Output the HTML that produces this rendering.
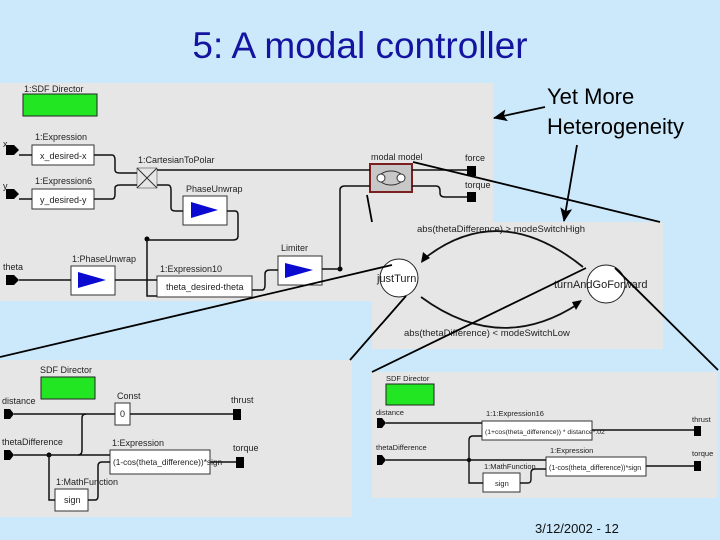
<!DOCTYPE html>
<html><head><meta charset="utf-8"><style>
html,body{margin:0;padding:0;background:#cce9fb;}
svg{display:block;font-family:"Liberation Sans",sans-serif;}
</style></head><body>
<svg width="720" height="540" viewBox="0 0 720 540" xmlns="http://www.w3.org/2000/svg">
<defs>
<marker id="big" markerWidth="14" markerHeight="12" refX="13" refY="6" orient="auto" markerUnits="userSpaceOnUse"><path d="M0,0 L14,6 L0,12 L3,6 z" fill="#000"/></marker>
</defs>
<rect width="720" height="540" fill="#cce9fb"/>
<text x="360" y="58" font-size="37" fill="#1414a0" text-anchor="middle">5: A modal controller</text>

<!-- Panel A -->
<rect x="0" y="83" width="493" height="218" fill="#e6e6e6"/>
<g font-size="9" fill="#222">
<text x="24" y="92">1:SDF Director</text>
<rect x="23" y="94" width="74" height="22" fill="#22e622" stroke="#222"/>
<text x="3" y="147">x</text><text x="3" y="189">y</text><text x="3" y="270">theta</text>
<text x="35" y="140">1:Expression</text>
<rect x="32" y="145" width="62" height="20" fill="#fff" stroke="#333"/><text x="40" y="159">x_desired-x</text>
<text x="35" y="184">1:Expression6</text>
<rect x="32" y="189" width="62" height="20" fill="#fff" stroke="#333"/><text x="40" y="203">y_desired-y</text>
<text x="138" y="163">1:CartesianToPolar</text>
<path d="M137,168 L157,188 M157,168 L137,188" stroke="#333" fill="none"/>
<rect x="137" y="168" width="20" height="20" fill="none" stroke="#333" stroke-width="0.5"/>
<text x="186" y="192">PhaseUnwrap</text>
<rect x="183" y="196" width="44" height="29" fill="#fff" stroke="#333"/><path d="M191,202 L218,210 L191,218 z" fill="#0a0ad0"/>
<text x="72" y="262">1:PhaseUnwrap</text>
<rect x="71" y="266" width="44" height="29" fill="#fff" stroke="#333"/><path d="M78,272 L106,280 L78,288 z" fill="#0a0ad0"/>
<text x="160" y="272">1:Expression10</text>
<rect x="157" y="276" width="95" height="21" fill="#fff" stroke="#333"/><text x="166" y="290">theta_desired-theta</text>
<text x="281" y="251">Limiter</text>
<rect x="278" y="256" width="44" height="29" fill="#fff" stroke="#333"/><path d="M285,263 L313,270 L285,278 z" fill="#0a0ad0"/>
<text x="371" y="160">modal model</text>
<rect x="370" y="164" width="42" height="28" fill="#c8c8c8" stroke="#7a2020" stroke-width="2"/>
<ellipse cx="391" cy="178" rx="12" ry="7" fill="none" stroke="#333"/>
<circle cx="381" cy="178" r="4" fill="#fff" stroke="#333"/><circle cx="401" cy="178" r="4" fill="#fff" stroke="#333"/>
<text x="465" y="161">force</text><text x="465" y="188">torque</text>
</g>
<g fill="#000">
<path d="M6,145 L14,145 L19,150 L14,155 L6,155z"/>
<path d="M6,189 L14,189 L19,194 L14,199 L6,199z"/>
<path d="M6,275 L14,275 L19,280 L14,285 L6,285z"/>
<rect x="467" y="166" width="9" height="10"/><rect x="467" y="192" width="9" height="10"/>
<circle cx="147" cy="239" r="2.5"/><circle cx="340" cy="269" r="2.5"/>
</g>
<g stroke="#111" stroke-width="1.5" fill="none">
<path d="M19,155 L32,155 M94,155 L112,155 Q115,155 115,160 L115,170 Q115,173 120,173 L137,173"/>
<path d="M19,199 L32,199 M94,199 L112,199 Q115,199 115,194 L115,188 Q115,185 120,185 L137,185"/>
<path d="M157,170 L370,170"/>
<path d="M157,185 L168,185 Q171,185 171,190 L171,208 Q171,211 176,211 L183,211"/>
<path d="M227,211 L235,211 Q238,211 238,215 L238,236 Q238,240 233,240 L147,240 L147,296 L157,296"/>
<path d="M19,280 L71,280 M115,280 L157,280"/>
<path d="M252,290 L262,290 Q265,290 265,285 L265,274 Q265,270 270,270 L278,270"/>
<path d="M322,269 L340,269 L340,190 Q340,186 345,186 L370,186"/>
<path d="M412,170 L467,170"/>
<path d="M412,186 L436,186 Q440,186 440,191 L440,193 Q440,197 445,197 L467,197"/>
</g>

<!-- Panel B FSM -->
<rect x="372" y="222" width="291" height="127" fill="#e6e6e6"/>
<g font-size="9.5" fill="#222">
<text x="417" y="232">abs(thetaDifference) &gt; modeSwitchHigh</text>
<text x="404" y="336">abs(thetaDifference) &lt; modeSwitchLow</text>
</g>
<circle cx="399" cy="278" r="19" fill="#fff" stroke="#222"/>
<circle cx="606" cy="284" r="19" fill="#fff" stroke="#222"/>
<text x="377" y="282" font-size="11" fill="#222">justTurn</text>
<text x="554" y="288" font-size="11" fill="#222">turnAndGoForward</text>
<path d="M583,267 Q500,200 425,258" stroke="#111" stroke-width="1.8" fill="none"/>
<path d="M421,263 L423,252 L430,258 z" fill="#000"/>
<path d="M421,297 Q500,355 578,304" stroke="#111" stroke-width="1.8" fill="none"/>
<path d="M582,300 L576,310 L572,302 z" fill="#000"/>

<!-- Panel C -->
<rect x="0" y="360" width="352" height="157" fill="#e6e6e6"/>
<g font-size="9" fill="#222">
<text x="40" y="373">SDF Director</text>
<rect x="41" y="377" width="54" height="22" fill="#22e622" stroke="#222"/>
<text x="2" y="404">distance</text><text x="2" y="445">thetaDifference</text>
<text x="117" y="399">Const</text>
<rect x="115" y="403" width="15" height="22" fill="#fff" stroke="#333"/><text x="120" y="417">0</text>
<text x="231" y="403">thrust</text><text x="233" y="451">torque</text>
<text x="112" y="446">1:Expression</text>
<rect x="110" y="450" width="100" height="24" fill="#fff" stroke="#333"/><text x="113" y="465" font-size="8.3">(1-cos(theta_difference))*sign</text>
<text x="56" y="485">1:MathFunction</text>
<rect x="55" y="489" width="33" height="22" fill="#fff" stroke="#333"/><text x="64" y="503">sign</text>
</g>
<g fill="#000">
<path d="M4,409 L10,409 L14,414 L10,419 L4,419z"/><path d="M4,450 L10,450 L14,455 L10,460 L4,460z"/>
<rect x="233" y="409" width="8" height="11"/><rect x="236" y="457" width="8" height="11"/>
<circle cx="49" cy="455" r="2.5"/>
</g>
<g stroke="#111" stroke-width="1.5" fill="none">
<path d="M14,414 L115,414 M130,414 L233,414"/>
<path d="M14,455 L110,455"/>
<path d="M78,455 Q82,455 82,450 L82,418 Q82,414 86,414"/>
<path d="M49,455 L49,500 L55,500 M88,500 L95,500 Q98,500 98,496 L98,466 Q98,462 102,462 L110,462"/>
<path d="M210,462 L236,462"/>
</g>

<!-- Panel D -->
<rect x="372" y="372" width="345" height="126" fill="#e6e6e6"/>
<g font-size="7.5" fill="#222">
<text x="386" y="381">SDF Director</text>
<rect x="386" y="384" width="48" height="21" fill="#22e622" stroke="#222"/>
<text x="376" y="415">distance</text><text x="376" y="450">thetaDifference</text>
<text x="486" y="416">1:1:Expression16</text>
<rect x="482" y="421" width="110" height="19" fill="#fff" stroke="#333"/><text x="485" y="434" font-size="6.8">(1+cos(theta_difference)) * distance*.02</text>
<text x="692" y="422">thrust</text><text x="692" y="456">torque</text>
<text x="550" y="453">1:Expression</text>
<rect x="546" y="457" width="100" height="19" fill="#fff" stroke="#333"/><text x="549" y="470" font-size="7">(1-cos(theta_difference))*sign</text>
<text x="484" y="469">1:MathFunction</text>
<rect x="483" y="473" width="37" height="19" fill="#fff" stroke="#333"/><text x="495" y="486">sign</text>
</g>
<g fill="#000">
<path d="M377,418 L382,418 L386,423 L382,428 L377,428z"/><path d="M377,455 L382,455 L386,460 L382,465 L377,465z"/>
<rect x="694" y="426" width="7" height="10"/><rect x="694" y="461" width="7" height="10"/>
<circle cx="469" cy="460" r="2.2"/>
</g>
<g stroke="#111" stroke-width="1.4" fill="none">
<path d="M386,423 L482,423 M592,430 L694,430"/>
<path d="M386,460 L546,460"/>
<path d="M469,460 L469,440 Q469,436 473,436 L482,436"/>
<path d="M469,460 L469,483 L483,483 M520,483 L528,483 Q531,483 531,479 L531,473 Q531,469 535,469 L546,469"/>
<path d="M646,466 L694,466"/>
</g>

<!-- annotation text -->
<text x="547" y="104" font-size="22" fill="#000">Yet More</text>
<text x="547" y="134" font-size="22" fill="#000">Heterogeneity</text>

<!-- zoom lines -->
<g stroke="#000" stroke-width="1.8" fill="none">
<path d="M413,162 L660,222"/>
<path d="M367,195 L372,222"/>
<path d="M392,265 L0,357"/>
<path d="M406,296 L350,360"/>
<path d="M586,268 L372,372"/>
<path d="M615,268 L718,370"/>
<path d="M545,107 L494,118" marker-end="url(#big)"/>
<path d="M577,145 L564,221" marker-end="url(#big)"/>
</g>
<text x="535" y="533" font-size="13" fill="#111">3/12/2002 - 12</text>
</svg>
</body></html>
